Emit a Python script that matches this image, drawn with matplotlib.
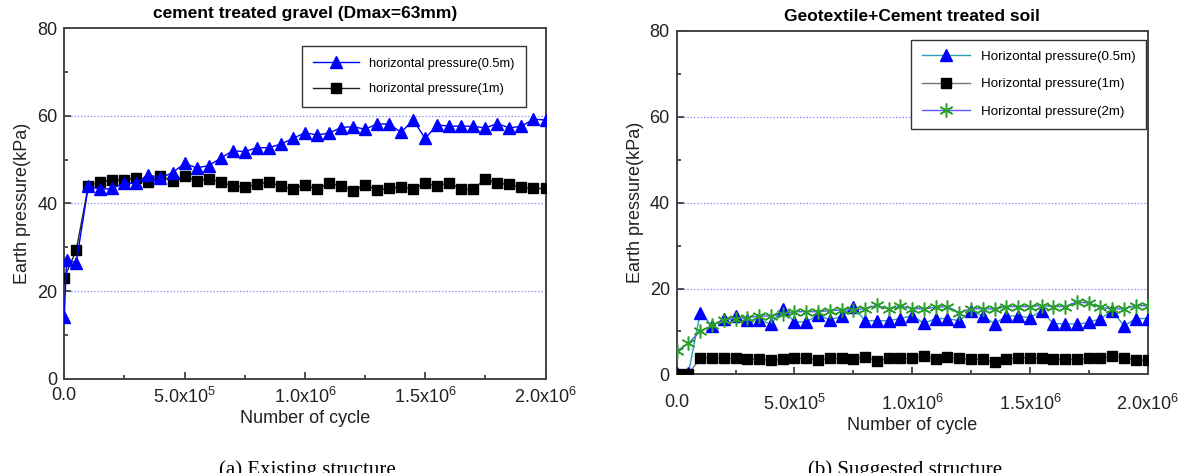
import matplotlib
matplotlib.use("Agg")
import matplotlib.pyplot as plt
from matplotlib.ticker import MultipleLocator, FixedLocator, FixedFormatter

plt.rcParams['font.family'] = ['Liberation Sans', 'DejaVu Sans']
plt.rcParams['mathtext.fontset'] = 'custom'
plt.rcParams['mathtext.rm'] = 'Liberation Sans'
plt.rcParams['mathtext.it'] = 'Liberation Sans:italic'

# ---- data ----
step = 5e4
cycles = [i * step for i in range(41)]          # 0 ... 2.0e6
cycles_a_blue = [0, 1e4] + cycles[1:]

# (a) existing structure
a_h05 = [14, 27, 26.5, 43.9, 43.2, 43.4, 44.6, 44.6, 46.5, 45.8, 47.0, 49.1,
         48.1, 48.6, 50.3, 52.0, 51.8, 52.7, 52.7, 53.5, 54.8, 56.1, 55.6,
         56.0, 57.3, 57.5, 56.9, 58.1, 58.1, 56.2, 59.0, 54.8, 57.9, 57.6,
         57.6, 57.6, 57.2, 58.2, 57.2, 57.6, 59.2, 59.0]
a_h1 = [23, 29.3, 44.0, 44.9, 45.3, 45.3, 45.8, 44.9, 46.2, 45.1, 46.2, 45.1,
        45.6, 44.9, 44.0, 43.7, 44.3, 44.9, 43.9, 43.3, 44.2, 43.2, 44.6,
        44.0, 42.9, 44.2, 43.0, 43.4, 43.8, 43.3, 44.6, 44.0, 44.7, 43.2,
        43.2, 45.6, 44.6, 44.3, 43.7, 43.4, 43.4]

# (b) suggested structure
b_h05 = [0.3, 0.3, 14.4, 11.3, 13.0, 13.5, 12.7, 12.7, 11.7, 15.2, 12.2, 12.2,
         13.8, 12.7, 13.5, 15.8, 12.5, 12.5, 12.5, 13.0, 13.7, 11.9, 13.0,
         13.0, 12.5, 14.8, 13.6, 11.8, 13.6, 13.6, 13.2, 14.8, 11.8, 11.8,
         11.7, 12.1, 13.0, 14.8, 11.3, 13.0, 13.0]
b_h1 = [0.2, 0.2, 3.7, 3.9, 3.7, 3.7, 3.5, 3.5, 3.3, 3.5, 3.7, 3.7, 3.3, 3.7,
        3.7, 3.5, 4.1, 3.1, 3.7, 3.7, 3.7, 4.3, 3.5, 4.1, 3.7, 3.5, 3.5, 2.9,
        3.5, 3.9, 3.9, 3.7, 3.5, 3.5, 3.5, 3.7, 3.7, 4.3, 3.9, 3.3, 3.3]
b_h2 = [5.5, 7.2, 10.1, 11.4, 12.7, 13.0, 13.2, 13.6, 13.6, 14.0, 14.6, 14.6,
        14.6, 14.8, 15.0, 15.0, 15.3, 16.1, 15.2, 15.9, 15.3, 15.3, 15.6,
        15.8, 14.4, 15.3, 15.3, 15.2, 15.8, 15.8, 15.8, 16.0, 15.8, 15.8,
        16.9, 16.6, 15.6, 15.2, 15.3, 16.0, 16.0]

xtick_vals = [0, 5e5, 1e6, 1.5e6, 2e6]
xtick_labels = ['0.0', r'5.0x10$^5$', r'1.0x10$^6$', r'1.5x10$^6$', r'2.0x10$^6$']

fig = plt.figure(figsize=(11.81, 4.73), dpi=100)
ax1 = fig.add_axes([0.0544, 0.1994, 0.4075, 0.7414])
ax2 = fig.add_axes([0.5730, 0.2085, 0.3987, 0.7260])


def style_axes(ax, title, xpad, lpad):
    ax.set_xlim(0, 2e6)
    ax.set_ylim(0, 80)
    ax.xaxis.set_major_locator(FixedLocator(xtick_vals))
    ax.xaxis.set_major_formatter(FixedFormatter(xtick_labels))
    ax.xaxis.set_minor_locator(MultipleLocator(2.5e5))
    ax.yaxis.set_major_locator(MultipleLocator(20))
    ax.yaxis.set_minor_locator(MultipleLocator(10))
    ax.tick_params(which='both', direction='in', labelsize=13, colors='#333333',
                   width=1.2, labelcolor='#222222')
    ax.tick_params(which='major', length=5)
    ax.tick_params(which='minor', length=3)
    ax.tick_params(axis='x', which='major', pad=xpad)
    ax.tick_params(axis='y', which='major', pad=5)
    for s in ax.spines.values():
        s.set_color('#444444')
        s.set_linewidth(1.4)
    for yv in (20, 40, 60):
        ax.axhline(yv, color='#7f7fff', lw=0.9, ls=':', zorder=0)
    ax.set_xlabel('Number of cycle', fontsize=13, color='#222222', labelpad=lpad)
    ax.set_ylabel('Earth pressure(kPa)', fontsize=13, color='#222222', labelpad=4)
    ax.set_title(title, fontsize=12.5, fontweight='bold', pad=7)


style_axes(ax1, 'cement treated gravel (Dmax=63mm)', 6, 2)
style_axes(ax2, 'Geotextile+Cement treated soil', 14, 2)

# (a)
ax1.plot(cycles_a_blue, a_h05, color='#0000ff', lw=1, marker='^', ms=9,
         mec='#0000ff', mfc='#0000ff', zorder=4, label='horizontal pressure(0.5m)')
ax1.plot(cycles, a_h1, color='#222222', lw=1, marker='s', ms=7.5,
         mec='black', mfc='black', zorder=3, label='horizontal pressure(1m)')
leg1 = ax1.legend(loc='upper right', bbox_to_anchor=(0.96, 0.948), borderaxespad=0,
                  fontsize=9.2, handlelength=3.6, labelspacing=1.05, borderpad=0.9,
                  fancybox=False, framealpha=1, edgecolor='#333333')
leg1.get_frame().set_linewidth(1.0)

# (b)
ax2.plot(cycles, b_h05, color='#2aa0b8', lw=1, marker='^', ms=9,
         mec='#0000ff', mfc='#0000ff', zorder=3, label='Horizontal pressure(0.5m)')
ax2.plot(cycles, b_h1, color='#777777', lw=1, marker='s', ms=7.5,
         mec='black', mfc='black', zorder=3, label='Horizontal pressure(1m)')
ax2.plot(cycles, b_h2, color='#5a5aff', lw=1, marker=(6, 2, 0), ms=10,
         mec='#2ca02c', mew=1.1, zorder=4, label='Horizontal pressure(2m)')
leg2 = ax2.legend(loc='upper right', bbox_to_anchor=(0.997, 0.975), borderaxespad=0,
                  fontsize=9.6, handlelength=3.6, labelspacing=1.15, borderpad=0.8,
                  fancybox=False, framealpha=1, edgecolor='#333333')
leg2.get_frame().set_linewidth(1.0)

fig.text(0.26, -0.005, '(a) Existing structure', family='Liberation Serif',
         fontsize=15, ha='center', va='baseline')
fig.text(0.766, -0.005, '(b) Suggested structure', family='Liberation Serif',
         fontsize=15, ha='center', va='baseline')

fig.savefig('out.png', dpi=100)
